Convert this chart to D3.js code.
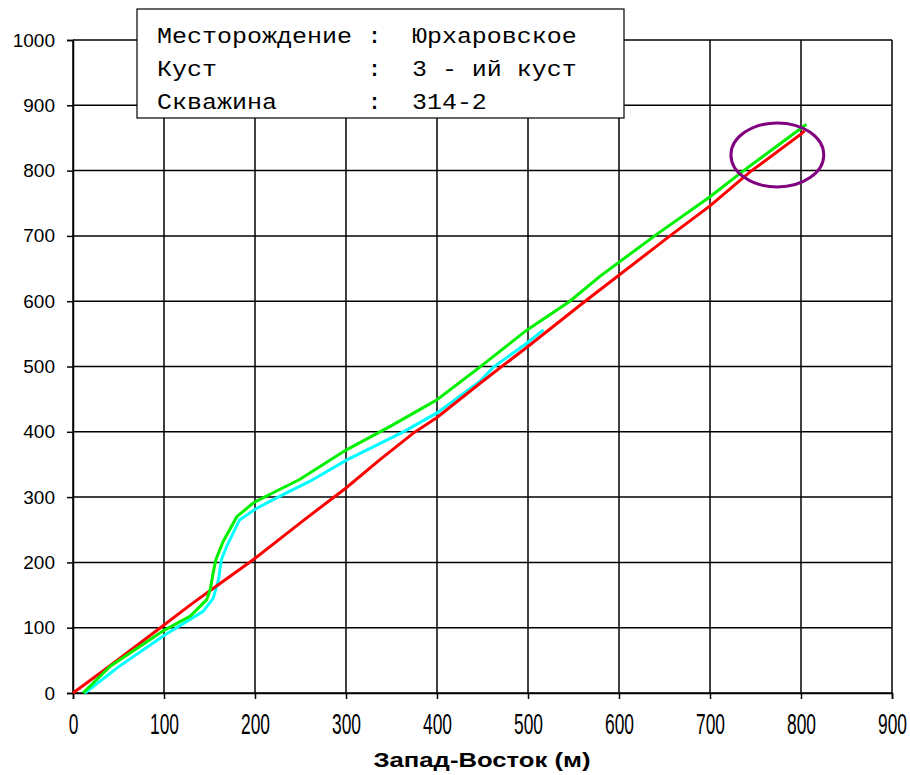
<!DOCTYPE html>
<html>
<head>
<meta charset="utf-8">
<script src="https://cdn.jsdelivr.net/npm/d3@7"></script>
<style>
  body { margin: 0; background: #fff; }
  svg { display: block; }
</style>
</head>
<body>
<div id="graf"></div>
<script>
// Datos (x = Запад-Восток, y = Юг-Север)
var redX   = [0, 37, 96, 129, 147, 198, 253, 300, 337, 374, 400, 447, 502, 561, 656, 700, 744, 801, 804]
var redY   = [0, 38, 100, 135, 153, 204, 264, 314, 357, 398, 422, 474, 533, 598, 700, 746, 798, 857, 861]
var greenX = [11, 41, 100, 129, 147, 151, 154, 157, 165, 180, 198, 216, 249, 300, 348, 381, 400, 447, 499, 546, 579, 641, 700, 737, 806]
var greenY = [0, 41, 96, 118, 143, 160, 184, 204, 232, 270, 291, 304, 327, 372, 408, 434, 449, 499, 556, 600, 638, 702, 760, 800, 871]
var cyanX  = [13, 50, 100, 143, 154, 160, 163, 169, 183, 202, 234, 260, 301, 363, 400, 447, 462, 499, 517]
var cyanY  = [0, 40, 88, 125, 145, 174, 204, 225, 265, 283, 306, 324, 357, 400, 429, 477, 499, 536, 556]

var xTicks = [0, 100, 200, 300, 400, 500, 600, 700, 800, 900]
var yTicks = [0, 100, 200, 300, 400, 500, 600, 700, 800, 900, 1000]

var infoLabels = ['Месторождение', 'Куст', 'Скважина']
var infoValues = ['Юрхаровское', '3 - ий куст', '314-2']

// elipse marcando el final del pozo (centro y radios en unidades de datos)
var marca = { cx: 774, cy: 824, rx: 51, ry: 49 }

var ancho_total = 910
var alto_total = 775
var margen = { superior: 40, izquierdo: 73, derecho: 18, inferior: 82 }
var ancho = ancho_total - margen.izquierdo - margen.derecho
var alto = alto_total - margen.superior - margen.inferior

var svg = d3.select('#graf').append('svg')
  .attr('width', ancho_total)
  .attr('height', alto_total)

var g = svg.append('g')
  .attr('transform', `translate(${margen.izquierdo}, ${margen.superior})`)

var x = d3.scaleLinear().domain([0, 900]).range([0, ancho])
var y = d3.scaleLinear().domain([0, 1000]).range([alto, 0])

// rejilla
g.append('g').selectAll('line.vx').data(xTicks).enter()
  .append('line')
  .attr('x1', d => x(d)).attr('x2', d => x(d))
  .attr('y1', 0).attr('y2', alto)
  .attr('stroke', '#000').attr('stroke-width', 1.5)
g.append('g').selectAll('line.hy').data(yTicks).enter()
  .append('line')
  .attr('y1', d => y(d)).attr('y2', d => y(d))
  .attr('x1', 0).attr('x2', ancho)
  .attr('stroke', '#000').attr('stroke-width', 1.5)

// ejes
var xAxisGroup = g.append('g')
  .attr('transform', `translate(0, ${alto})`)
  .call(d3.axisBottom(x).tickValues(xTicks).tickSize(6).tickPadding(14).tickFormat(d3.format('d')))
xAxisGroup.select('.domain').attr('stroke-width', 1.5)
xAxisGroup.selectAll('.tick line').attr('stroke-width', 1.5)
xAxisGroup.selectAll('text')
  .attr('font-family', 'Liberation Sans, Arial, sans-serif')
  .attr('font-size', '29px')
  .attr('fill', '#000')
  .attr('transform', 'scale(0.6,1)')

var yAxisGroup = g.append('g')
  .call(d3.axisLeft(y).tickValues(yTicks).tickSize(6).tickPadding(12).tickFormat(d3.format('d')))
yAxisGroup.select('.domain').attr('stroke-width', 1.5)
yAxisGroup.selectAll('.tick line').attr('stroke-width', 1.5)
yAxisGroup.selectAll('text')
  .attr('font-family', 'Liberation Sans, Arial, sans-serif')
  .attr('font-size', '19px')
  .attr('fill', '#000')

// titulo del eje X
svg.append('text')
  .attr('x', 482)
  .attr('y', 767)
  .attr('text-anchor', 'middle')
  .attr('font-family', 'Liberation Sans, Arial, sans-serif')
  .attr('font-weight', 'bold')
  .attr('font-size', '21px')
  .attr('textLength', 217)
  .attr('lengthAdjust', 'spacingAndGlyphs')
  .text('Запад-Восток (м)')

// lineas de trayectoria
var linea = d3.line().x(d => x(d[0])).y(d => y(d[1]))
var series = [
  { color: '#00ffff', pts: d3.zip(cyanX, cyanY) },
  { color: '#ff0000', pts: d3.zip(redX, redY) },
  { color: '#00f000', pts: d3.zip(greenX, greenY) }
]
g.selectAll('path.tray').data(series).enter()
  .append('path')
  .attr('class', 'tray')
  .attr('d', d => linea(d.pts))
  .attr('fill', 'none')
  .attr('stroke', d => d.color)
  .attr('stroke-width', 3)

g.append('ellipse')
  .attr('cx', x(marca.cx))
  .attr('cy', y(marca.cy))
  .attr('rx', x(marca.rx) - x(0))
  .attr('ry', y(0) - y(marca.ry))
  .attr('fill', 'none')
  .attr('stroke', '#800080')
  .attr('stroke-width', 3)

// cuadro de informacion
svg.append('rect')
  .attr('x', 137).attr('y', 9)
  .attr('width', 487).attr('height', 109)
  .attr('fill', '#fff')
  .attr('stroke', '#000')
  .attr('stroke-width', 1.2)

// texto monoespaciado, ensanchado para imitar Courier (15 px por caracter)
var col = 13.2
var info = svg.append('g')
  .attr('transform', 'translate(157, 0) scale(1.136, 1)')
  .attr('font-family', 'Liberation Mono, Courier New, monospace')
  .attr('font-size', '22px')
  .attr('fill', '#000')
infoLabels.forEach(function(lbl, i) {
  var yy = 43 + i * 33
  info.append('text').attr('x', 0).attr('y', yy).text(lbl)
  info.append('text').attr('x', 14 * col).attr('y', yy).text(':')
  info.append('text').attr('x', 17 * col).attr('y', yy).text(infoValues[i])
})
</script>
</body>
</html>
